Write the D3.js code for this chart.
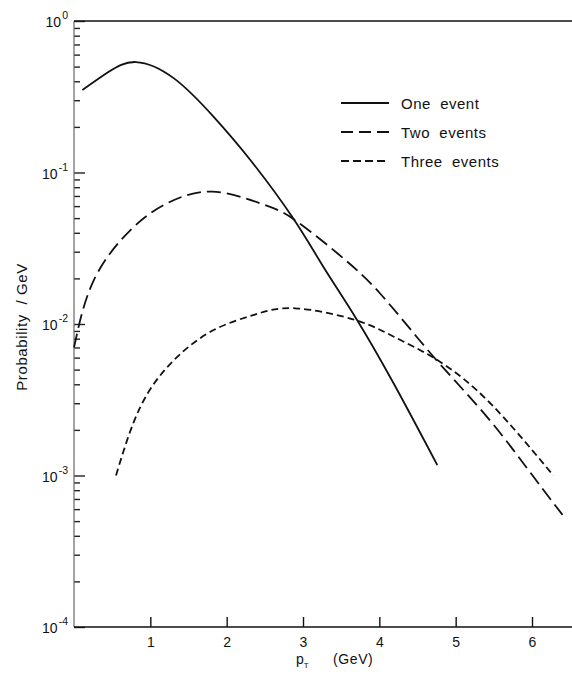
<!DOCTYPE html>
<html>
<head>
<meta charset="utf-8">
<script src="https://cdn.jsdelivr.net/npm/d3@7"></script>
<style>
  body { margin: 0; background: #fff; }
  svg { display: block; font-family: "Liberation Sans", "DejaVu Sans", sans-serif; }
</style>
</head>
<body>
<script>
// values (pT in GeV, probability / GeV)
var one_pt   = [0.11, 0.45, 0.81, 1.31, 1.83, 2.31, 2.86, 3.27, 3.69, 4.19, 4.76];
var one_prob = [0.35, 0.46, 0.536, 0.418, 0.233, 0.121, 0.0508, 0.0237, 0.0110, 0.00403, 0.00117];

var two_pt   = [0.00, 0.26, 0.74, 1.22, 1.81, 2.44, 2.86, 3.45, 4.01, 4.71, 5.41, 6.02, 6.40];
var two_prob = [0.0070, 0.0195, 0.0417, 0.0626, 0.0747, 0.0626, 0.0499, 0.0293, 0.0159, 0.00608, 0.00244, 0.00098, 0.00055];

var three_pt   = [0.55, 0.87, 1.31, 1.83, 2.36, 2.90, 3.69, 4.19, 4.76, 5.45, 6.28];
var three_prob = [0.00100, 0.00284, 0.00578, 0.00912, 0.0115, 0.0127, 0.0106, 0.00824, 0.00578, 0.00301, 0.00100];

var series_names = ["One  event", "Two  events", "Three  events"];
var x_ticks = [1, 2, 3, 4, 5, 6];
var y_decades = [0, -1, -2, -3, -4];

var W = 572, H = 678;
// note: "top" is taken by window.top, so use plot_* names
var plot_left = 74, plot_top = 21, plot_bottom = 627;

var svg = d3.select("body").append("svg")
    .attr("width", W)
    .attr("height", H);

var x = d3.scaleLinear().domain([0, 6]).range([plot_left, 532]);
var y = d3.scaleLog().domain([1e-4, 1]).range([plot_bottom, plot_top]);

// minor + major ticks on the left axis, pointing inward
var minor = [];
for (var e = -4; e < 0; e++) {
    for (var m = 2; m <= 9; m++) minor.push(m * Math.pow(10, e));
}

svg.append("g")
    .attr("transform", "translate(" + plot_left + ",0)")
    .call(d3.axisLeft(y).tickValues(minor).tickSize(-6).tickFormat(""))
    .call(g => g.select(".domain").remove());

svg.append("g")
    .attr("transform", "translate(" + plot_left + ",0)")
    .call(d3.axisLeft(y).tickValues(y_decades.map(d => Math.pow(10, d))).tickSize(-11).tickFormat(""))
    .call(g => g.select(".domain").remove());

svg.selectAll(".tick line").attr("stroke", "#222").attr("stroke-width", 1.4);

// left axis line
svg.append("line")
    .attr("x1", plot_left).attr("x2", plot_left)
    .attr("y1", plot_top).attr("y2", plot_bottom)
    .attr("stroke", "#666").attr("stroke-width", 1.2);

// top frame line
svg.append("line")
    .attr("x1", plot_left).attr("x2", W)
    .attr("y1", plot_top).attr("y2", plot_top)
    .attr("stroke", "#111").attr("stroke-width", 1.6);

// bottom axis
svg.append("line")
    .attr("x1", plot_left).attr("x2", W)
    .attr("y1", plot_bottom).attr("y2", plot_bottom)
    .attr("stroke", "#111").attr("stroke-width", 1.3);

var xg = svg.append("g")
    .attr("transform", "translate(0," + plot_bottom + ")")
    .call(d3.axisBottom(x).tickValues(x_ticks).tickSize(-10).tickPadding(10).tickFormat(d3.format("d")));
xg.select(".domain").remove();
xg.selectAll(".tick line").attr("stroke", "#111").attr("stroke-width", 1.4);
xg.selectAll(".tick text").attr("font-size", 14).attr("fill", "#111");

// y labels: 10 with superscript exponent
y_decades.forEach(function (d) {
    var t = svg.append("text")
        .attr("x", 68)
        .attr("y", y(Math.pow(10, d)) + 6)
        .attr("text-anchor", "end")
        .attr("font-size", 14)
        .attr("fill", "#111");
    t.append("tspan").text("10");
    t.append("tspan").attr("dy", -8).attr("dx", 1).attr("font-size", 10.5).text(d === 0 ? "0" : "-" + (-d));
});

// axis titles
var xt = svg.append("text")
    .attr("x", 296).attr("y", 664)
    .attr("font-size", 14).attr("fill", "#111");
xt.append("tspan").text("p");
xt.append("tspan").attr("dy", 4).attr("font-size", 8).text("T");
xt.append("tspan").attr("x", 333).attr("dy", -4).attr("letter-spacing", 0.6).text("(GeV)");

svg.append("text")
    .attr("transform", "translate(27,327) rotate(-90)")
    .attr("text-anchor", "middle")
    .attr("font-size", 15)
    .attr("letter-spacing", 0.6)
    .attr("fill", "#111")
    .style("white-space", "pre")
    .text("Probability  / GeV");

// curves
var line = d3.line()
    .x(d => x(d[0]))
    .y(d => y(d[1]))
    .curve(d3.curveNatural);

var series = [
    { pts: d3.zip(one_pt, one_prob), dash: null },
    { pts: d3.zip(two_pt, two_prob), dash: "14,6" },
    { pts: d3.zip(three_pt, three_prob), dash: "7,4" }
];

series.forEach(function (s) {
    svg.append("path")
        .attr("d", line(s.pts))
        .attr("fill", "none")
        .attr("stroke", "#111")
        .attr("stroke-width", 1.8)
        .attr("stroke-dasharray", s.dash);
});

// legend
var legY = [103, 132, 161];
var legDash = [null, "12,6", "8,4"];
series_names.forEach(function (name, i) {
    svg.append("line")
        .attr("x1", 341).attr("x2", 389)
        .attr("y1", legY[i]).attr("y2", legY[i])
        .attr("stroke", "#111").attr("stroke-width", 1.8)
        .attr("stroke-dasharray", legDash[i]);
    svg.append("text")
        .attr("x", 401).attr("y", legY[i] + 5.5)
        .attr("font-size", 15)
        .attr("letter-spacing", 0.5)
        .attr("fill", "#111")
        .style("white-space", "pre")
        .text(name);
});
</script>
</body>
</html>
